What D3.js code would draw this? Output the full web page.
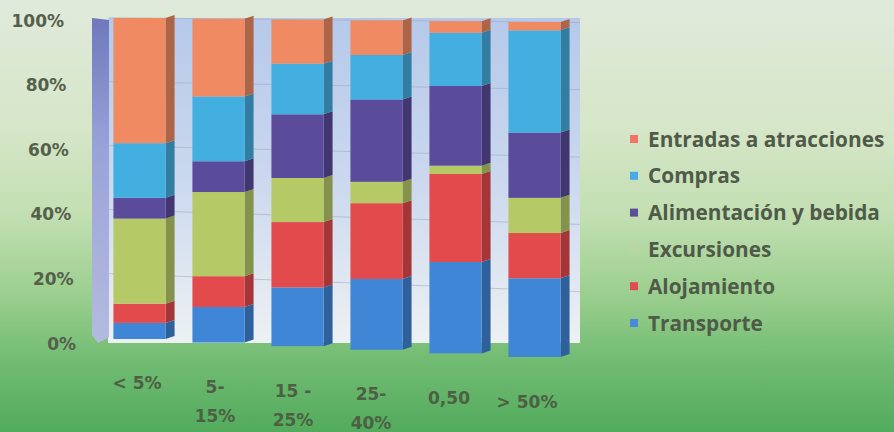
<!DOCTYPE html>
<html>
<head>
<meta charset="utf-8">
<script src="https://cdn.jsdelivr.net/npm/d3@7"></script>
<style>
  html, body { margin: 0; padding: 0; background: #cfe3c0; }
  svg { display: block; }
</style>
</head>
<body>
<svg id="chart" width="894" height="432"></svg>
<script>
// Spending structure by share of trip budget (100% stacked)
const categories = ["< 5%", "5- 15%", "15 - 25%", "25- 40%", "0,50", "> 50%"];
const categoryLines = [["< 5%"], ["5-", "15%"], ["15 -", "25%"], ["25-", "40%"], ["0,50"], ["> 50%"]];

// series in stacking order, bottom to top
const seriesNames = ["Transporte", "Alojamiento", "Excursiones", "Alimentación y bebida", "Compras", "Entradas a atracciones"];
const transporte   = [5, 11, 18, 21.5, 27.5, 23.5];
const alojamiento  = [6, 9.5, 20, 23, 26.5, 13.5];
const excursiones  = [26.5, 26, 13.5, 6.5, 2.5, 10.5];
const alimentacion = [6.5, 9.5, 19.5, 25, 24, 19.5];
const compras      = [17, 20, 15.5, 13.5, 16, 30.5];
const entradas     = [39, 24, 13.5, 10.5, 3.5, 2.5];
const seriesValues = [transporte, alojamiento, excursiones, alimentacion, compras, entradas];

const yTicks = [0, 20, 40, 60, 80, 100];
const seriesColors = ["#3f86d6", "#e24a4c", "#b6c967", "#5a4b9b", "#43aee0", "#ef8a62"];
const legendSwatch = ["#4a8ad8", "#e44a54", "#c6d896", "#5d5099", "#4aa9e2", "#ef7566"];

const svg = d3.select("#chart");
const W = 894, H = 432;
const defs = svg.append("defs");

// background
const bg = defs.append("linearGradient").attr("id", "bg").attr("x1", 0).attr("y1", 0).attr("x2", 0).attr("y2", 1);
[[0, "#e0eadb"], [0.3, "#d6e6c8"], [0.5, "#c2dfb2"], [0.68, "#9ccf8f"], [0.84, "#70bb72"], [1, "#52ab5c"]]
  .forEach(([o, c]) => bg.append("stop").attr("offset", o).attr("stop-color", c));
svg.append("rect").attr("width", W).attr("height", H).attr("fill", "url(#bg)");

const wallG = defs.append("linearGradient").attr("id", "wall").attr("x1", 0).attr("y1", 0).attr("x2", 0).attr("y2", 1);
[[0, "#b6c9ea"], [0.5, "#cbd8ee"], [1, "#edf1f3"]]
  .forEach(([o, c]) => wallG.append("stop").attr("offset", o).attr("stop-color", c));
const sideG = defs.append("linearGradient").attr("id", "side").attr("x1", 0).attr("y1", 0).attr("x2", 0).attr("y2", 1);
[[0, "#6f78bc"], [0.4, "#9aa3d8"], [1, "#b4bbe0"]]
  .forEach(([o, c]) => sideG.append("stop").attr("offset", o).attr("stop-color", c));

// scales
const x = d3.scaleBand().domain(d3.range(categories.length)).range([100, 574])
  .paddingInner(0.34).paddingOuter(0.17);
const xLabel = d3.scaleBand().domain(d3.range(categories.length)).range([98, 566]);

// slight perspective: the baseline drops toward the right
const bottomAt = d3.scaleLinear().domain([140, 535]).range([339, 357]);
const topAt = d3.scaleLinear().domain([140, 535]).range([18, 22]);
const yAt = px => d3.scaleLinear().domain([0, 100]).range([bottomAt(px), topAt(px)]);

const yAxisScale = d3.scaleLinear().domain([0, 100]).range([343, 20]);

// back wall and left side wall
const wallLeft = 92, wallRight = 580, wallTop = 18, wallBottom = 343;
svg.append("rect").attr("x", wallLeft + 16).attr("y", wallTop)
  .attr("width", wallRight - wallLeft - 16).attr("height", wallBottom - wallTop)
  .attr("fill", "url(#wall)");
svg.append("path")
  .attr("d", `M${wallLeft},${wallTop} L${wallLeft + 17},${wallTop + 2} L${wallLeft + 17},${wallBottom - 6} L${wallLeft + 6},${wallBottom} L${wallLeft},${wallBottom - 8} Z`)
  .attr("fill", "url(#side)");

// gridlines on the wall
svg.append("g").selectAll("path").data(yTicks.slice(1)).join("path")
  .attr("d", v => `M${wallLeft + 17},${yAt(wallLeft + 17)(v)} L${wallRight},${yAt(wallRight)(v)}`)
  .attr("stroke", "#9aa7bb").attr("stroke-opacity", 0.55).attr("stroke-width", 1).attr("fill", "none");

// stacked bars
const table = categories.map((c, i) => {
  const row = { i };
  seriesNames.forEach((s, k) => { row[s] = seriesValues[k][i]; });
  return row;
});
const stacked = d3.stack().keys(seriesNames)(table);

const depth = 9, rise = 3;
const barsG = svg.append("g");
stacked.forEach((layer, k) => {
  const g = barsG.append("g");
  const col = d3.color(seriesColors[k]);
  // side face
  g.selectAll("path").data(layer).join("path")
    .attr("d", d => {
      const i = d.data.i, x1 = x(i) + x.bandwidth();
      const y = yAt(x(i) + x.bandwidth() / 2);
      const t = y(d[1]), b = y(d[0]);
      return `M${x1},${t} L${x1 + depth},${t - rise} L${x1 + depth},${b - rise} L${x1},${b} Z`;
    })
    .attr("fill", col.darker(0.9));
  // front face
  g.selectAll("rect").data(layer).join("rect")
    .attr("x", d => x(d.data.i))
    .attr("width", x.bandwidth())
    .attr("y", d => yAt(x(d.data.i) + x.bandwidth() / 2)(d[1]))
    .attr("height", d => {
      const y = yAt(x(d.data.i) + x.bandwidth() / 2);
      return y(d[0]) - y(d[1]);
    })
    .attr("fill", seriesColors[k]);
});

// y axis labels
const axisColor = "#55604c";
const yAxis = d3.axisLeft(yAxisScale).tickValues(yTicks).tickFormat(d => d + "%").tickSize(0);
const yg = svg.append("g").attr("transform", "translate(64,0)").call(yAxis);
yg.select(".domain").remove();
yg.selectAll("text")
  .attr("x", d => 12 * (1 - d / 100))
  .attr("dy", "0.36em")
  .attr("fill", axisColor)
  .style("font", "bold 17px 'DejaVu Sans', sans-serif");

// category labels
const xAxis = d3.axisBottom(xLabel).tickFormat(() => "").tickSize(0);
const xg = svg.append("g").call(xAxis);
xg.select(".domain").remove();
xg.selectAll(".tick text").remove();
xg.selectAll(".tick").append("text")
  .attr("text-anchor", "middle")
  .attr("fill", "#4d6044")
  .style("font", "bold 17px 'DejaVu Sans', sans-serif")
  .attr("y", (d, i) => 389 + 3.8 * i)
  .selectAll("tspan").data(i => categoryLines[i]).join("tspan")
  .attr("x", 0)
  .attr("dy", (t, j) => j === 0 ? 0 : 29)
  .text(t => t);

// legend (top to bottom mirrors stack top to bottom)
const legendOrder = d3.range(seriesNames.length).reverse();
const lg = svg.append("g");
const legendY = d3.scalePoint().domain(legendOrder).range([139, 323]);
const items = lg.selectAll("g").data(legendOrder).join("g")
  .attr("transform", k => `translate(630,${legendY(k)})`);
items.append("rect").attr("x", 0).attr("y", -4).attr("width", 8).attr("height", 8)
  .attr("fill", k => legendSwatch[k])
  .attr("opacity", k => seriesNames[k] === "Excursiones" ? 0.25 : 1);
items.append("text").attr("x", 18).attr("dy", "0.36em")
  .attr("fill", "#4f5a48")
  .style("font", "bold 20.8px 'Open Sans', sans-serif")
  .text(k => seriesNames[k]);
</script>
</body>
</html>
